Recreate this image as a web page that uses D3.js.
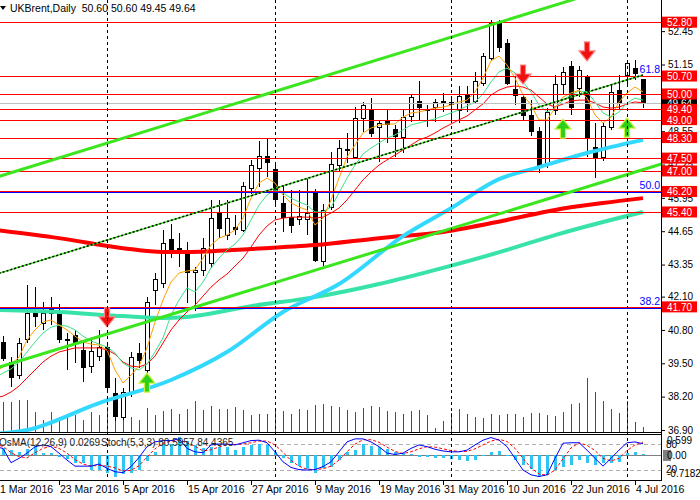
<!DOCTYPE html>
<html>
<head>
<meta charset="utf-8">
<script src="https://cdn.jsdelivr.net/npm/d3@7"></script>
<style>
body { margin: 0; background: #fff; }
text { font-family: "Liberation Sans", Arial, sans-serif; }
</style>
</head>
<body>
<svg id="chart" width="700" height="500"></svg>
<script>
const W = 700;
const H = 500;
const AXIS_X = 661;
const MAIN_BOTTOM = 432;
const PANEL_TOP = 435;
const PANEL_BOTTOM = 480;

// daily bars, 1 Mar 2016 .. 5 Jul 2016 (index 0 .. 81)
const opens = [39.60,40.34,39.56,39.04,40.45,41.46,41.07,41.47,41.46,40.45, 40.60,40.02,39.40,39.78,40.14,38.34,37.41,38.34,39.90,39.24,
	42.36,42.63,44.35,44.00,43.76,43.05,43.14,43.40,45.41,44.50, 44.80,44.70,46.32,47.10,47.58,47.06,45.76,45.19,45.12,45.12,
	46.13,43.49,45.61,47.23,47.85,47.56,49.05,49.38,48.70,48.95, 48.62,48.34,49.14,49.74,49.40,49.50,49.73,49.69,49.38,49.96,
	49.74,50.42,51.42,52.76,51.98,50.19,49.89,49.18,48.57,47.27, 49.38,50.39,51.09,50.22,50.67,47.93,47.56,48.72,50.16,50.74,
	51.00,50.60];
const highs = [40.50,40.55,39.76,40.50,42.55,42.48,41.89,42.10,41.81,40.68, 40.80,40.41,40.41,40.80,40.30,38.93,38.54,39.95,40.29,42.10,
	43.02,44.70,44.92,44.57,44.24,43.25,44.40,45.87,45.87,45.87, 45.30,46.58,47.43,48.18,48.23,47.36,46.45,46.26,46.26,46.71,
	46.30,45.70,47.75,48.20,48.49,49.48,49.70,49.83,48.95,49.38, 48.79,49.38,50.00,50.52,49.57,49.80,50.05,49.90,50.31,50.31,
	50.86,51.60,52.90,52.88,52.13,50.71,50.00,49.77,48.72,49.45, 50.73,51.05,51.30,51.10,50.74,48.86,48.86,50.35,50.74,51.30,
	51.33,50.60];
const lows = [39.40,39.60,38.59,38.90,40.30,40.90,40.80,41.00,40.30,39.24, 39.50,38.77,39.12,39.60,38.40,37.25,37.29,38.20,39.30,39.10,
	41.77,42.45,43.60,43.27,41.84,41.55,42.90,43.20,44.37,44.30, 44.50,44.60,46.10,46.39,46.78,45.67,44.63,44.57,44.90,44.50,
	43.46,43.30,45.48,47.00,47.30,47.49,48.53,48.34,47.36,48.08, 47.56,47.69,48.90,48.99,48.70,48.90,49.30,48.95,48.88,49.30,
	49.60,50.30,51.30,51.65,50.35,49.57,49.00,48.36,46.91,47.10, 49.18,50.00,49.20,49.90,47.56,46.71,47.40,48.60,49.38,50.28,
	50.55,49.45];
const closes = [40.30,39.70,38.98,40.29,41.46,41.34,41.46,41.60,40.45,40.40, 40.29,39.36,39.98,40.14,38.58,37.45,38.38,39.75,39.63,41.89,
	42.79,44.19,43.92,43.92,43.05,43.12,43.99,45.16,44.76,45.16, 44.72,46.41,47.23,47.58,47.36,45.90,45.22,44.89,45.24,45.37,
	43.53,45.48,47.27,47.88,47.80,49.05,49.57,48.47,48.86,48.82, 48.36,49.10,49.87,49.48,49.38,49.70,49.69,49.60,49.93,49.70,
	50.52,51.48,52.76,51.84,50.44,49.96,49.18,48.57,47.17,49.31, 50.39,50.87,49.50,50.93,48.34,47.56,48.75,50.09,49.70,51.20,
	50.81,49.64];
const volumes = [2800,3000,3000,3200,3200,2000,1200,2000,1500,1400, 1700,1200,2000,1700,2500,2000,2000,1500,1200,2400,
	1700,2100,2300,1800,2300,3100,2200,2600,2300,2300, 2500,2200,1700,1800,1800,2100,2100,1800,2300,2200,
	2700,2800,2600,2500,2200,2000,2400,2600,2500,2100, 2000,1800,2100,2200,1700,400,1100,1900,2300,1800,
	1500,1400,1800,1700,1800,1800,1500,1900,1900,1700, 1600,2000,2800,2900,5400,4000,3100,2300,1900,3100,
	1000,500];

// short moving averages, one value per bar
const maFast = [39.16,39.36,39.47,39.74,40.41,40.80,41.11,41.19,40.99,40.80, 40.56,40.33,40.25,40.21,40.02,39.24,38.73,39.04,39.39,40.10,
	41.11,41.97,42.67,43.02,43.10,43.14,43.60,44.11,44.38,44.50, 44.70,45.16,45.94,46.53,46.72,46.53,46.06,45.75,45.59,45.48,
	44.89,45.16,45.87,46.72,47.54,48.01,48.48,48.67,48.79,48.83, 48.83,49.10,49.26,49.30,49.38,49.45,49.49,49.57,49.69,49.76,
	50.08,50.62,51.29,51.48,51.13,50.62,49.96,49.57,48.99,48.99, 49.45,49.88,50.04,50.15,49.84,49.18,48.87,49.10,49.69,50.04,
	50.27,50.08];
const maMid = [38.93,39.12,39.28,39.55,39.94,40.33,40.68,40.91,40.99,40.95, 40.80,40.56,40.37,40.25,40.14,39.90,39.51,39.32,39.24,39.47,
	39.94,40.49,41.38,41.97,42.44,42.28,42.67,43.22,43.60,43.92, 44.15,44.50,45.09,45.67,46.06,46.26,46.14,45.94,45.79,45.67,
	45.40,45.40,45.59,46.14,46.72,47.23,47.66,47.89,48.09,48.28, 48.40,48.60,48.79,48.87,48.95,49.03,49.14,49.26,49.38,49.53,
	49.69,50.00,50.47,50.86,51.01,50.82,50.47,50.08,49.57,49.30, 49.45,49.76,49.96,50.12,50.08,49.69,49.26,49.10,49.30,49.65,
	49.84,49.76];
const maSlow = [38.15,38.22,38.38,38.61,38.93,39.24,39.55,39.78,39.94,40.02, 40.10,40.10,40.10,40.10,40.02,39.86,39.55,39.39,39.36,39.47,
	39.78,40.29,40.80,41.19,41.50,41.77,42.12,42.47,42.75,42.98, 43.29,43.60,44.03,44.50,44.85,45.09,45.16,45.20,45.20,45.20,
	45.16,45.20,45.36,45.55,45.87,46.26,46.65,46.96,47.23,47.43, 47.62,47.82,48.01,48.21,48.32,48.48,48.67,48.83,48.99,49.14,
	49.38,49.61,49.96,50.15,50.27,50.31,50.27,50.15,49.88,49.61, 49.49,49.61,49.73,49.76,49.76,49.65,49.49,49.45,49.49,49.61,
	49.69,49.65];

// long moving averages, read at a few bars
const ma200Idx = [0, 8, 16, 21, 24, 32, 40, 48, 56, 64, 70, 76, 81];
const ma200Val = [44.70, 44.38, 43.99, 43.84, 43.84, 43.96, 44.11, 44.38, 44.62, 45.09, 45.48, 45.75, 45.94];
const ma144Idx = [0, 8, 16, 21, 24, 32, 40, 48, 56, 64, 70, 76, 81];
const ma144Val = [41.58, 41.50, 41.34, 41.27, 41.31, 41.73, 42.08, 42.59, 43.22, 43.92, 44.50, 45.01, 45.40];
const ma50Idx = [0, 4, 13, 22, 29, 36, 43, 51, 57, 63, 68, 74, 81];
const ma50Val = [36.74, 36.90, 37.95, 38.85, 39.94, 41.50, 42.59, 44.46, 45.55, 46.68, 47.15, 47.70, 48.21];

// oscillators
const osma = [0.17,0.19,0.14,0.09,0.17,0.29,0.05,0.05,-0.07,-0.11, -0.23,-0.23,-0.43,-0.43,-0.52,-0.63,-0.55,-0.52,-0.43,-0.17,
	0.09,0.32,0.32,0.52,0.40,0.29,0.20,0.23,0.23,0.23, 0.14,0.23,0.29,0.32,0.29,0.09,-0.09,-0.23,-0.32,-0.40,
	-0.52,-0.37,-0.34,-0.14,0.09,0.14,0.32,0.26,0.22,0.16, 0.07,0.05,0.02,-0.05,-0.07,-0.08,-0.09,-0.12,-0.14,-0.17,
	-0.14,-0.03,0.09,0.12,-0.03,-0.14,-0.29,-0.40,-0.60,-0.57, -0.43,-0.34,-0.29,-0.14,-0.22,-0.29,-0.24,-0.22,-0.19,0.05,
	0.07,0.03];
const stochMain = [74,70,37,47,59,74,78,74,59,43, 29,29,29,34,24,16,14,28,49,74, 85,88,88,92,70,62,60,78,80,80,
	78,83,88,89,83,62,39,26,21,20, 21,28,39,62,85,92,92,85,74,59, 56,59,70,78,74,68,64,62,62,66,
	78,89,95,89,74,47,20,9,5,9, 47,82,83,83,66,47,29,47,66,83, 85,80.6];
const stochSignal = [78,75,60,51,48,60,70,75,70,59, 44,34,29,31,29,25,18,19,30,50, 69,82,87,89,83,75,64,67,73,79,
	79,80,83,87,87,78,61,42,29,22, 21,23,29,43,62,80,90,90,84,73, 63,58,62,69,74,73,69,65,63,63,
	69,78,87,91,86,70,47,25,11,8, 20,46,71,83,77,65,47,41,47,65, 78,84.4];
const osmaLegend = 'OsMA(12,26,9) 0.0269';
const stochLegend = 'Stoch(5,3,3) 80.5957 84.4365';

// levels and drawings
const levels = [52.80, 50.70, 50.00, 49.40, 49.00, 48.30, 47.50, 47.00, 46.20, 45.40, 41.70];
const fibLevels = [50.71, 46.16, 41.65];
const fibNames = ['61.8', '50.0', '38.2'];
const bidPrice = 49.64;
const priceTicks = [52.45, 51.15, 49.85, 48.55, 47.25, 45.95, 44.65, 43.35, 42.10, 40.80, 39.50, 38.20, 36.90];

const channelFromIdx = [0, 0, 0];
const channelFromPrice = [46.74, 42.96, 39.30];
const channelToIdx = [81, 81, 81];
const channelToPrice = [54.52, 50.74, 47.05];

const arrowIdx = [14, 66, 74, 19, 71, 79];
const arrowPrice = [41.27, 50.74, 51.64, 38.77, 48.67, 48.71];
const arrowUp = [false, false, false, true, true, true];

const separatorIdx = [14, 35, 57, 79];
const dateIdx = [0, 8, 16, 24, 32, 40, 48, 56, 64, 72, 80];
const dateText = ['1 Mar 2016', '23 Mar 2016', '5 Apr 2016', '15 Apr 2016', '27 Apr 2016', '9 May 2016',
	'19 May 2016', '31 May 2016', '10 Jun 2016', '22 Jun 2016', '4 Jul 2016'];

const svg = d3.select('#chart');
svg.append('rect').attr('width', W).attr('height', H).attr('fill', '#fff');

const x = d3.scaleLinear().domain([0, 81]).range([-5, 643]);
const y = d3.scaleLinear().domain([36.90, 52.45]).range([430, 31.14]);
const yVol = d3.scaleLinear().domain([0, 6000]).range([MAIN_BOTTOM, MAIN_BOTTOM - 60]);
const yStoch = d3.scaleLinear().domain([0, 100]).range([478.7, 435.4]);
const yOsma = d3.scaleLinear().domain([-0.7182, 0.599]).range([480, 434]);
const px = v => Math.round(v) + 0.5;

const defs = svg.append('defs');
defs.append('clipPath').attr('id', 'clipMain').append('rect')
	.attr('x', 0).attr('y', 0).attr('width', AXIS_X).attr('height', MAIN_BOTTOM);
defs.append('clipPath').attr('id', 'clipPanel').append('rect')
	.attr('x', 0).attr('y', PANEL_TOP).attr('width', AXIS_X).attr('height', PANEL_BOTTOM - PANEL_TOP);

const main = svg.append('g').attr('clip-path', 'url(#clipMain)');
const panel = svg.append('g').attr('clip-path', 'url(#clipPanel)');

// period separators
svg.append('g').selectAll('line')
	.data(separatorIdx)
	.enter()
	.append('line')
	.attr('x1', d => px(x(d))).attr('x2', d => px(x(d)))
	.attr('y1', 0).attr('y2', PANEL_BOTTOM)
	.attr('stroke', '#000')
	.attr('stroke-dasharray', '3,3');

// volumes
main.append('g').selectAll('line')
	.data(volumes)
	.enter()
	.append('line')
	.attr('x1', (d, i) => px(x(i))).attr('x2', (d, i) => px(x(i)))
	.attr('y1', yVol(0)).attr('y2', d => yVol(d))
	.attr('stroke', '#0b7a0b');

// candles
const candles = main.append('g').attr('shape-rendering', 'crispEdges');
opens.forEach((o, i) => {
	const c = closes[i];
	const cx = x(i);
	candles.append('line')
		.attr('x1', cx + 0.5).attr('x2', cx + 0.5)
		.attr('y1', y(highs[i])).attr('y2', y(lows[i]))
		.attr('stroke', '#000');
	const top = Math.round(y(Math.max(o, c))) + 0.5;
	const bottom = Math.round(y(Math.min(o, c))) + 0.5;
	candles.append('rect')
		.attr('x', cx - 1.5).attr('width', 4)
		.attr('y', top).attr('height', Math.max(bottom - top, 1))
		.attr('fill', c >= o ? '#fff' : '#000')
		.attr('stroke', '#000');
});

// long moving averages
const knotLine = d3.line()
	.x(d => x(d[0]))
	.y(d => y(d[1]))
	.curve(d3.curveMonotoneX);
const zip = (a, b) => a.map((e, i) => [e, b[i]]);

main.append('path').datum(zip(ma144Idx, ma144Val))
	.attr('d', knotLine).attr('fill', 'none').attr('stroke', '#38e3a8').attr('stroke-width', 4);
main.append('path').datum(zip(ma200Idx, ma200Val))
	.attr('d', knotLine).attr('fill', 'none').attr('stroke', '#ff0000').attr('stroke-width', 4);
main.append('path').datum(zip(ma50Idx, ma50Val))
	.attr('d', knotLine).attr('fill', 'none').attr('stroke', '#33d8ff').attr('stroke-width', 4);

// short moving averages
const barLine = d3.line().x((d, i) => x(i)).y(d => y(d));
main.append('path').datum(maSlow)
	.attr('d', barLine).attr('fill', 'none').attr('stroke', '#ff0000').attr('stroke-width', 1);
main.append('path').datum(maMid)
	.attr('d', barLine).attr('fill', 'none').attr('stroke', '#3de08a').attr('stroke-width', 1);
main.append('path').datum(maFast)
	.attr('d', barLine).attr('fill', 'none').attr('stroke', '#ffa000').attr('stroke-width', 1);

// horizontal levels
main.append('line')
	.attr('x1', 0).attr('x2', AXIS_X)
	.attr('y1', px(y(bidPrice))).attr('y2', px(y(bidPrice)))
	.attr('stroke', '#c0c0c0');

main.append('g').selectAll('line')
	.data(fibLevels)
	.enter()
	.append('line')
	.attr('x1', 0).attr('x2', AXIS_X)
	.attr('y1', d => px(y(d))).attr('y2', d => px(y(d)))
	.attr('stroke', '#0000ff');

main.append('g').selectAll('line')
	.data(levels)
	.enter()
	.append('line')
	.attr('x1', 0).attr('x2', AXIS_X)
	.attr('y1', d => px(y(d))).attr('y2', d => px(y(d)))
	.attr('stroke', '#ff0000');

main.append('g').selectAll('text')
	.data(fibLevels)
	.enter()
	.append('text')
	.attr('x', AXIS_X - 1)
	.attr('y', d => y(d) - 3)
	.attr('text-anchor', 'end')
	.attr('font-size', '10.5px')
	.attr('fill', '#0000ff')
	.text((d, i) => fibNames[i]);

// channel lines, outer ones run as rays to the price axis
const channelEnd = i => {
	const slope = (channelToPrice[i] - channelFromPrice[i]) / (channelToIdx[i] - channelFromIdx[i]);
	const endIdx = i === 1 ? channelToIdx[i] : x.invert(AXIS_X + 2);
	return [endIdx, channelFromPrice[i] + slope * (endIdx - channelFromIdx[i])];
};
[0, 1, 2].forEach(i => {
	const end = channelEnd(i);
	const seg = main.append('line')
		.attr('x1', x(channelFromIdx[i])).attr('y1', y(channelFromPrice[i]))
		.attr('x2', x(end[0])).attr('y2', y(end[1]));
	if (i === 1) {
		seg.attr('stroke', '#3be61e').attr('stroke-width', 1.5);
		main.append('line')
			.attr('x1', x(channelFromIdx[i])).attr('y1', y(channelFromPrice[i]))
			.attr('x2', x(end[0])).attr('y2', y(end[1]))
			.attr('stroke', '#000').attr('stroke-width', 1.5)
			.attr('stroke-dasharray', '2,2');
	} else {
		seg.attr('stroke', '#3be61e').attr('stroke-width', 3);
	}
});

// signal arrows
const arrowPath = up => {
	const s = up ? -1 : 1;
	return `M-2.5,${-10 * s} L2.5,${-10 * s} L2.5,${-1 * s} L8,${-1 * s} L0,${9 * s} L-8,${-1 * s} L-2.5,${-1 * s} Z`;
};
main.append('g').selectAll('path')
	.data(arrowIdx)
	.enter()
	.append('path')
	.attr('transform', (d, i) => `translate(${x(d)},${y(arrowPrice[i])})`)
	.attr('d', (d, i) => arrowPath(arrowUp[i]))
	.attr('fill', (d, i) => arrowUp[i] ? '#2ccf1a' : '#f01010')
	.attr('stroke', (d, i) => arrowUp[i] ? '#c8f53c' : '#ff8080')
	.attr('stroke-width', 1.2);

// oscillator panel
panel.append('g').selectAll('line')
	.data([80, 20])
	.enter()
	.append('line')
	.attr('x1', 0).attr('x2', AXIS_X)
	.attr('y1', d => px(yStoch(d))).attr('y2', d => px(yStoch(d)))
	.attr('stroke', '#b0b0b0')
	.attr('stroke-dasharray', '4,3');
panel.append('line')
	.attr('x1', 0).attr('x2', AXIS_X)
	.attr('y1', px(yOsma(0))).attr('y2', px(yOsma(0)))
	.attr('stroke', '#808080');

panel.append('g').attr('shape-rendering', 'crispEdges').selectAll('rect')
	.data(osma)
	.enter()
	.append('rect')
	.attr('x', (d, i) => x(i) - 1)
	.attr('width', 3)
	.attr('y', d => Math.min(yOsma(d), yOsma(0)))
	.attr('height', d => Math.abs(yOsma(d) - yOsma(0)))
	.attr('fill', '#2ec5f5');

panel.append('path').datum(stochSignal)
	.attr('d', d3.line().x((d, i) => x(i)).y(d => yStoch(d)))
	.attr('fill', 'none').attr('stroke', '#ff0000').attr('stroke-dasharray', '3,2');
panel.append('path').datum(stochMain)
	.attr('d', d3.line().x((d, i) => x(i)).y(d => yStoch(d)))
	.attr('fill', 'none').attr('stroke', '#0000ff');

panel.append('text').attr('x', -1).attr('y', 446).attr('font-size', '10px').attr('fill', '#222')
	.text(osmaLegend);
panel.append('text').attr('x', 101).attr('y', 446).attr('font-size', '10px').attr('fill', '#222')
	.text(stochLegend);

// frame
const frame = svg.append('g').attr('stroke', '#000').attr('shape-rendering', 'crispEdges');
frame.append('line').attr('x1', AXIS_X + 0.5).attr('x2', AXIS_X + 0.5).attr('y1', 0).attr('y2', PANEL_BOTTOM + 1);
frame.append('line').attr('x1', 0).attr('x2', AXIS_X).attr('y1', MAIN_BOTTOM + 0.5).attr('y2', MAIN_BOTTOM + 0.5);
frame.append('line').attr('x1', 0).attr('x2', AXIS_X).attr('y1', PANEL_TOP - 0.5).attr('y2', PANEL_TOP - 0.5);
frame.append('line').attr('x1', 0).attr('x2', AXIS_X).attr('y1', PANEL_BOTTOM + 0.5).attr('y2', PANEL_BOTTOM + 0.5);

// price axis
const priceAxis = svg.append('g')
	.attr('transform', `translate(${AXIS_X},0)`)
	.call(d3.axisRight(y).tickValues(priceTicks).tickSize(4).tickPadding(3).tickFormat(d3.format('.2f')));
priceAxis.select('.domain').remove();
priceAxis.selectAll('text').attr('font-size', '10px').attr('font-family', '"Liberation Sans", Arial, sans-serif').attr('fill', '#000');

// panel scale labels
const panelLabels = svg.append('g').attr('font-size', '10px').attr('fill', '#000');
panelLabels.append('rect').attr('x', AXIS_X + 2).attr('y', yOsma(0) - 5).attr('width', 8).attr('height', 11).attr('fill', '#808080');
panelLabels.append('text').attr('x', AXIS_X + 6).attr('y', yOsma(0.599) + 10).text('0.599');
panelLabels.append('text').attr('x', AXIS_X + 5).attr('y', yStoch(80) + 4).text('80');
panelLabels.append('text').attr('x', AXIS_X + 6).attr('y', yOsma(0) + 4).text('0.00');
panelLabels.append('text').attr('x', AXIS_X + 5).attr('y', yStoch(20) + 3).text('20');
panelLabels.append('text').attr('x', AXIS_X + 6).attr('y', yOsma(-0.7182) - 3).text('-0.7182');

// bid label
svg.append('rect').attr('x', AXIS_X + 1).attr('y', y(bidPrice) - 5.5).attr('width', 35).attr('height', 11).attr('fill', '#000');
svg.append('text').attr('x', AXIS_X + 6).attr('y', y(bidPrice) + 4).attr('font-size', '10px').attr('fill', '#fff')
	.text(bidPrice.toFixed(2));

// level labels
const levelTags = svg.append('g').selectAll('g')
	.data(levels)
	.enter()
	.append('g')
	.attr('transform', d => `translate(${AXIS_X + 1},${y(d)})`);
levelTags.append('rect').attr('x', 0).attr('y', -5.5).attr('width', 35).attr('height', 11).attr('fill', '#ff0000');
levelTags.append('text').attr('x', 5).attr('y', 4).attr('font-size', '10px').attr('fill', '#fff')
	.text(d => d.toFixed(2));

// time axis
const timeAxis = svg.append('g');
timeAxis.selectAll('line')
	.data(dateIdx)
	.enter()
	.append('line')
	.attr('x1', d => px(x(d))).attr('x2', d => px(x(d)))
	.attr('y1', PANEL_BOTTOM + 1).attr('y2', PANEL_BOTTOM + 5)
	.attr('stroke', '#000');
timeAxis.selectAll('text')
	.data(dateIdx)
	.enter()
	.append('text')
	.attr('x', d => Math.max(x(d) + 1, 0))
	.attr('y', 493)
	.attr('font-size', '10.5px')
	.attr('fill', '#000')
	.text((d, i) => dateText[i]);

// header
svg.append('path').attr('d', 'M0,6 L6,6 L3,10 Z').attr('fill', '#000');
svg.append('text')
	.attr('x', 10).attr('y', 12)
	.attr('font-size', '10.5px')
	.attr('fill', '#000')
	.attr('xml:space', 'preserve')
	.text(`UKBrent,Daily  ${opens[81].toFixed(2)} ${highs[81].toFixed(2)} ${lows[81].toFixed(2)} ${closes[81].toFixed(2)}`);
</script>
</body>
</html>
